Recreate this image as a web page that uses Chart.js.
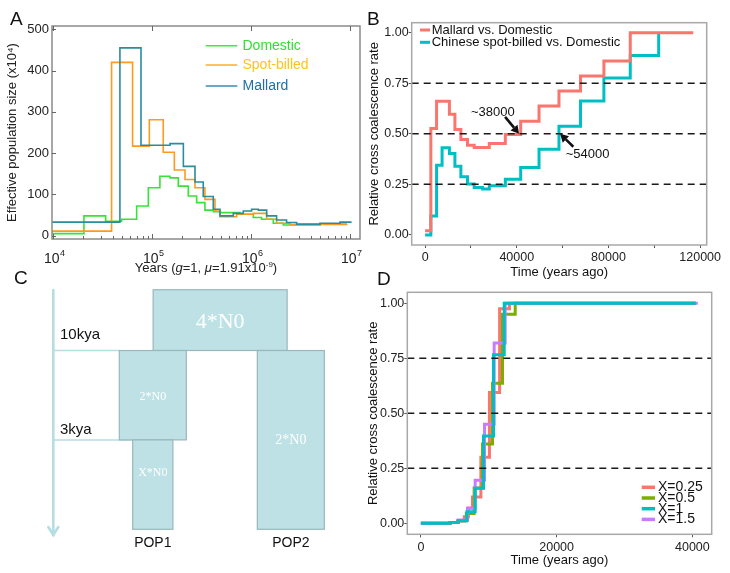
<!DOCTYPE html>
<html>
<head>
<meta charset="utf-8">
<title>PSMC / MSMC figure</title>
<script src="https://cdn.jsdelivr.net/npm/chart.js@4.4.1/dist/chart.umd.min.js"></script>
<style>
  html, body { margin:0; padding:0; background:#fff; }
  #fig { position:relative; width:730px; height:573px; overflow:hidden; background:#fff; }
  .pane { position:absolute; }
  .pane canvas { display:block; }
  .letter { position:absolute; font-family:'Liberation Sans', Arial, sans-serif; font-size:19px; line-height:1; color:#111; }
</style>
</head>
<body>
<div id="fig">
  <div class="pane" style="left:0;top:0;"><canvas id="chartA" width="365" height="280"></canvas></div>
  <div class="pane" style="left:365px;top:0;"><canvas id="chartB" width="365" height="280"></canvas></div>
  <div class="pane" style="left:0;top:280px;"><canvas id="chartC" width="365" height="293"></canvas></div>
  <div class="pane" style="left:365px;top:280px;"><canvas id="chartD" width="365" height="293"></canvas></div>
  <div class="letter" style="left:10px;top:9px;">A</div>
  <div class="letter" style="left:367px;top:9px;">B</div>
  <div class="letter" style="left:14px;top:268px;">C</div>
  <div class="letter" style="left:377px;top:269px;">D</div>
</div>
<script>
// ================= DATA =================
// ---- Panel A: PSMC, effective population size (x10^4) vs years ----
const domesticYears = [9700, 20400, 33800, 49000, 69500, 91200, 119400, 150600, 183000, 231000, 280600, 340000, 413000, 483000, 769000, 1048000, 1271000, 1667000, 2104000, 5000000, 9300000];
const domesticNe    = [5, 48, 35, 40, 72, 116, 144, 140, 120, 96, 80, 62, 58, 56, 52, 44, 40, 30, 26, 28, 28];
const spotYears     = [9700, 38800, 63200, 93300, 129000, 167000, 214000, 270000, 340000, 430000, 483000, 711000, 1048000, 1429000, 1803000, 2459000, 9200000];
const spotNe        = [11, 420, 217, 281, 202, 159, 136, 116, 88, 60, 46, 52, 54, 40, 30, 27, 28];
const mallardYears  = [9700, 47100, 76900, 151000, 206000, 270000, 327000, 413000, 483000, 658000, 830000, 1007000, 1177000, 1430000, 1800000, 2270000, 2870000, 4940000, 7870000, 10300000];
const mallardNe     = [33, 455, 219, 223, 168, 130, 95, 64, 48, 54, 60, 64, 62, 48, 38, 32, 28, 30, 33, 33];
const seriesNamesA  = ['Domestic', 'Spot-billed', 'Mallard'];
const yTicksA       = [0, 100, 200, 300, 400, 500];
const xMajorTicksA  = [1e4, 1e5, 1e6, 1e7];

// ---- Panel B: relative cross coalescence rate ----
const timeMD = [0, 2500, 5000, 10600, 13000, 15600, 18500, 21400, 28000, 35000, 41700, 49700, 58400, 67800, 78000, 89500, 117000];
const rateMD = [0.02, 0.526, 0.661, 0.597, 0.521, 0.472, 0.444, 0.433, 0.452, 0.497, 0.562, 0.638, 0.712, 0.786, 0.86, 1.0, 1.0];
const timeCD = [0, 2500, 5000, 7400, 10600, 13000, 15600, 18500, 21400, 25100, 28000, 35000, 41700, 49700, 58400, 67800, 78000, 89500, 101900];
const rateCD = [0.0, 0.094, 0.345, 0.431, 0.403, 0.34, 0.288, 0.252, 0.234, 0.227, 0.243, 0.275, 0.334, 0.424, 0.538, 0.663, 0.776, 0.888, 1.0];
const seriesNamesB = ['Mallard vs. Domestic', 'Chinese spot-billed vs. Domestic'];
const xTicksB      = [0, 20000, 40000, 60000, 80000, 100000, 120000];
const xLabelTicksB = [0, 40000, 80000, 120000];
const yTicksBD     = [0, 0.25, 0.5, 0.75, 1];
const refLinesBD   = [0.25, 0.5, 0.75];
const splitLabelsB = ['~38000', '~54000'];
const splitTimesB  = [41000, 58900];
const splitRateB   = 0.5;

// ---- Panel C: simulated demographic model ----
const cBoxLabels = ['4*N0', '2*N0', 'X*N0', '2*N0'];
const cBoxSizes  = [4, 2, 1.2, 2];          // population size in N0 units (box width)
const cBoxCenter = [4.98, 2.97, 2.97, 7.09];
const cBoxFrom   = [2, 1, 0, 0];            // epoch index (0 = present, 1 = 3 kya, 2 = 10 kya)
const cBoxTo     = [2.68, 2, 1, 2];
const cEpochLabels = ['10kya', '3kya'];
const cEpochLevels = [2, 1];
const cPopNames  = ['POP1', 'POP2'];
const cPopCenter = [2.97, 7.09];

// ---- Panel D: simulated cross coalescence ----
const timeX025 = [0, 4300, 5400, 6400, 7000, 7600, 8840, 10100, 11600, 13050, 40500];
const rateX025 = [0, 0.004, 0.01, 0.03, 0.07, 0.12, 0.30, 0.595, 0.975, 1.0, 1.0];
const timeX05  = [0, 4300, 5500, 6700, 7850, 9080, 10550, 12030, 13900, 40500];
const rateX05  = [0, 0.004, 0.012, 0.045, 0.16, 0.36, 0.637, 0.95, 1.0, 1.0];
const timeX1   = [0, 4300, 5500, 6780, 8000, 9230, 10700, 12280, 40500];
const rateX1   = [0, 0.004, 0.012, 0.053, 0.159, 0.397, 0.766, 1.0, 1.0];
const timeX15  = [0, 4300, 5500, 6870, 8000, 9380, 10800, 12420, 40800];
const rateX15  = [0, 0.004, 0.015, 0.068, 0.196, 0.45, 0.82, 1.0, 1.0];
const seriesNamesD = ['X=0.25', 'X=0.5', 'X=1', 'X=1.5'];
const xTicksD = [0, 20000, 40000];

// ================= STYLE =================
const FONT = "'Liberation Sans', Arial, Helvetica, sans-serif";
const SERIF = "'Liberation Serif', 'Times New Roman', serif";
Chart.defaults.font.family = FONT;
Chart.defaults.color = '#222';
const colA = { Domestic: '#36e336', Spot: '#ff9a1f', Mallard: '#2b8c9b' };
const legendStyleA = [
  { line: '#3ee83e', text: '#2fe02f' },
  { line: '#ffab2e', text: '#ffc21f' },
  { line: '#3a8cb0', text: '#1d6fa8' }
];
const colB = ['#F8766D', '#00BFC4'];
const colD = ['#F8766D', '#7CAE00', '#00BFC4', '#C77CFF'];

function pts(xs, ys) { return xs.map((x, i) => ({ x: x, y: ys[i] })); }

const framePlugin = {
  id: 'frame',
  afterDraw(chart, args, opts) {
    if (!opts || !opts.color) return;
    const { ctx, chartArea: a } = chart;
    ctx.save();
    ctx.strokeStyle = opts.color; ctx.lineWidth = opts.width || 1;
    ctx.strokeRect(a.left, a.top, a.right - a.left, a.bottom - a.top);
    ctx.restore();
  }
};

function drawArrow(ctx, x1, y1, x2, y2) {
  const ang = Math.atan2(y2 - y1, x2 - x1), L = 8, W = 4.5;
  const bx = x2 - L * Math.cos(ang), by = y2 - L * Math.sin(ang);
  ctx.strokeStyle = '#111'; ctx.lineWidth = 2.6;
  ctx.beginPath(); ctx.moveTo(x1, y1); ctx.lineTo(bx, by); ctx.stroke();
  ctx.fillStyle = '#111';
  ctx.beginPath(); ctx.moveTo(x2, y2);
  ctx.lineTo(bx + W * Math.sin(ang), by - W * Math.cos(ang));
  ctx.lineTo(bx - W * Math.sin(ang), by + W * Math.cos(ang));
  ctx.closePath(); ctx.fill();
}

function drawRefLines(chart) {
  const { ctx, chartArea: a, scales: { y } } = chart;
  ctx.save();
  ctx.setLineDash([7, 5]); ctx.strokeStyle = '#1a1a1a'; ctx.lineWidth = 1.5;
  refLinesBD.forEach(v => {
    const py = y.getPixelForValue(v);
    ctx.beginPath(); ctx.moveTo(a.left, py); ctx.lineTo(a.right, py); ctx.stroke();
  });
  ctx.restore();
}

// ================= PANEL A =================
const tickValuesA = [];
for (let e = 3; e <= 7; e++) for (let m = 1; m <= 9; m++) {
  const v = m * Math.pow(10, e);
  if (v >= 9705 && v <= 12530000) tickValuesA.push(v);
}
const panelAPlugin = {
  id: 'panelA',
  afterDraw(chart) {
    const { ctx, chartArea: a, scales: { x, y } } = chart;
    ctx.save();
    ctx.strokeStyle = '#666'; ctx.lineWidth = 1;
    tickValuesA.forEach(v => {
      const px = Math.round(x.getPixelForValue(v)) + 0.5;
      const major = xMajorTicksA.includes(v);
      const len = major ? 5 : 3;
      ctx.beginPath(); ctx.moveTo(px, a.bottom); ctx.lineTo(px, a.bottom - len); ctx.stroke();
      if (major) { ctx.beginPath(); ctx.moveTo(px, a.top); ctx.lineTo(px, a.top + len); ctx.stroke(); }
    });
    yTicksA.forEach(v => {
      const py = Math.round(y.getPixelForValue(v)) + 0.5;
      ctx.beginPath(); ctx.moveTo(a.left, py); ctx.lineTo(a.left + 4, py); ctx.stroke();
    });
    // x tick labels: 10 with raised exponent
    ctx.fillStyle = '#222'; ctx.textBaseline = 'alphabetic';
    xMajorTicksA.forEach(v => {
      const px = x.getPixelForValue(v);
      const expTxt = String(Math.round(Math.log10(v)));
      ctx.font = `14px ${FONT}`; const wb = ctx.measureText('10').width;
      ctx.font = `9px ${FONT}`; const we = ctx.measureText(expTxt).width;
      const x0 = px - (wb + we) / 2 + 1;
      ctx.font = `14px ${FONT}`; ctx.textAlign = 'left'; ctx.fillText('10', x0, 263);
      ctx.font = `9px ${FONT}`; ctx.fillText(expTxt, x0 + wb + 0.5, 256);
    });
    // legend
    const rows = [19.7, 39, 60];
    seriesNamesA.forEach((name, i) => {
      const yy = a.top + rows[i];
      ctx.strokeStyle = legendStyleA[i].line; ctx.lineWidth = 1.6;
      ctx.beginPath(); ctx.moveTo(a.left + 153.7, yy); ctx.lineTo(a.left + 185.3, yy); ctx.stroke();
      ctx.fillStyle = legendStyleA[i].text; ctx.font = `14px ${FONT}`;
      ctx.textAlign = 'left'; ctx.textBaseline = 'middle';
      ctx.fillText(name, a.left + 190.5, yy);
    });
    // x-axis title with italic parts
    const parts = [['Years (', 'n'], ['g', 'i'], ['=1, ', 'n'], ['\u03bc', 'i'], ['=1.91x10', 'n'], ['-9', 's'], [')', 'n']];
    const size = 13;
    const fonts = parts.map(([t, s]) => {
      const f = s === 's' ? `${Math.round(size * 0.62)}px ${FONT}` : (s === 'i' ? `italic ${size}px ${FONT}` : `${size}px ${FONT}`);
      ctx.font = f; return { t, s, f, w: ctx.measureText(t).width };
    });
    const total = fonts.reduce((acc, p) => acc + p.w, 0);
    let xx = (a.left + a.right) / 2 - total / 2;
    const base = 272;
    ctx.fillStyle = '#222'; ctx.textAlign = 'left'; ctx.textBaseline = 'alphabetic';
    fonts.forEach(p => { ctx.font = p.f; ctx.fillText(p.t, xx, p.s === 's' ? base - 5.5 : base); xx += p.w; });
    ctx.restore();
  }
};

new Chart(document.getElementById('chartA'), {
  type: 'line',
  data: {
    datasets: [
      { label: seriesNamesA[2], data: pts(mallardYears, mallardNe), borderColor: colA.Mallard },
      { label: seriesNamesA[1], data: pts(spotYears, spotNe), borderColor: colA.Spot },
      { label: seriesNamesA[0], data: pts(domesticYears, domesticNe), borderColor: colA.Domestic }
    ]
  },
  options: {
    responsive: false, animation: false, events: [],
    layout: { padding: { left: 0, right: 5, top: 26, bottom: 0 } },
    elements: { point: { radius: 0 }, line: { borderWidth: 1.6, stepped: 'before', tension: 0 } },
    plugins: { legend: { display: false }, tooltip: { enabled: false }, frame: { color: '#8a8a8a', width: 1.5 } },
    scales: {
      x: {
        type: 'logarithmic', min: 9705, max: 12530000,
        afterBuildTicks: s => { s.ticks = tickValuesA.map(v => ({ value: v })); },
        afterFit: s => { s.height = 41; },
        grid: { display: false, drawTicks: false }, border: { display: false },
        ticks: { autoSkip: false, maxRotation: 0, padding: 11, display: false }
      },
      y: {
        type: 'linear', min: -8, max: 508,
        afterBuildTicks: s => { s.ticks = yTicksA.map(v => ({ value: v })); },
        afterFit: s => { s.width = 52; },
        grid: { display: false, drawTicks: false }, border: { display: false },
        ticks: { padding: 3, color: '#222', font: { size: 13 } },
        title: { display: true, text: 'Effective population size (x10\u2074)', color: '#222', font: { size: 13 }, padding: { top: 5, bottom: 0 } }
      }
    }
  },
  plugins: [framePlugin, panelAPlugin]
});

// ================= PANEL B =================
const annotStyleB = [
  { tail: [-14, -17], text: [-26.3, -21.3] },
  { tail: [13.2, 12.9], text: [27.4, 20.9] }
];
const panelBPlugin = {
  id: 'panelB',
  afterDatasetsDraw(chart) {
    const { ctx, chartArea: a, scales: { x, y } } = chart;
    drawRefLines(chart);
    ctx.save();
    splitTimesB.forEach((t, i) => {
      const tx = x.getPixelForValue(t), ty = y.getPixelForValue(splitRateB);
      const s = annotStyleB[i];
      drawArrow(ctx, tx + s.tail[0], ty + s.tail[1], tx, ty);
      ctx.font = `13px ${FONT}`; ctx.fillStyle = '#111'; ctx.textAlign = 'center'; ctx.textBaseline = 'middle';
      ctx.fillText(splitLabelsB[i], tx + s.text[0], ty + s.text[1]);
    });
    const rows = [7.3, 19.6];
    seriesNamesB.forEach((name, i) => {
      const yy = a.top + rows[i];
      ctx.strokeStyle = colB[i]; ctx.lineWidth = 3;
      ctx.beginPath(); ctx.moveTo(a.left + 8.3, yy); ctx.lineTo(a.left + 18.3, yy); ctx.stroke();
      ctx.fillStyle = '#111'; ctx.font = `13px ${FONT}`; ctx.textAlign = 'left'; ctx.textBaseline = 'middle';
      ctx.fillText(name, a.left + 20, yy);
    });
    ctx.restore();
  }
};

new Chart(document.getElementById('chartB'), {
  type: 'line',
  data: {
    datasets: [
      { label: seriesNamesB[0], data: pts(timeMD, rateMD), borderColor: colB[0] },
      { label: seriesNamesB[1], data: pts(timeCD, rateCD), borderColor: colB[1] }
    ]
  },
  options: {
    responsive: false, animation: false, events: [],
    layout: { padding: { left: 0, right: 23.3, top: 22.7, bottom: 0 } },
    elements: { point: { radius: 0 }, line: { borderWidth: 3, stepped: 'before', tension: 0 } },
    plugins: { legend: { display: false }, tooltip: { enabled: false }, frame: { color: '#a8a8a8', width: 1.5 } },
    scales: {
      x: {
        type: 'linear', min: -5850, max: 122850,
        afterBuildTicks: s => { s.ticks = xTicksB.map(v => ({ value: v })); },
        afterFit: s => { s.height = 35; },
        grid: { display: true, drawOnChartArea: false, drawTicks: true, tickLength: 3, color: '#555' },
        border: { display: false },
        ticks: { autoSkip: false, maxRotation: 0, padding: 2, color: '#222', font: { size: 12.5 },
          callback: v => xLabelTicksB.includes(v) ? String(v) : '' },
        title: { display: true, text: 'Time (years ago)', color: '#111', font: { size: 13 }, padding: { top: 0, bottom: 0 } }
      },
      y: {
        type: 'linear', min: -0.05, max: 1.05,
        afterBuildTicks: s => { s.ticks = yTicksBD.map(v => ({ value: v })); },
        afterFit: s => { s.width = 46.7; },
        grid: { display: true, drawOnChartArea: false, drawTicks: true, tickLength: 3, color: '#555' },
        border: { display: false },
        ticks: { padding: 0, color: '#222', font: { size: 12.5 }, callback: v => Number(v).toFixed(2) },
        title: { display: true, text: 'Relative cross coalescence rate', color: '#111', font: { size: 13 }, padding: { top: 2, bottom: 0 } }
      }
    }
  },
  plugins: [framePlugin, panelBPlugin]
});

// ================= PANEL C =================
const cStyle = {
  fill: '#bde1e4', stroke: '#98b8bc', lineCol: '#b6dee2',
  labelFont: [22, 12, 12, 14], labelLevel: [2.32, 1.48, 0.63, 1.0],
  epochTextLevel: [2.18, 1.11], epochTextX: 0.2, popLevel: -0.157,
  arrowTop: 2.677, arrowBottom: -0.064, epochStopBox: [1, 2]
};
const panelCPlugin = {
  id: 'panelC',
  afterDraw(chart) {
    const { ctx, scales: { x, y } } = chart;
    const X = v => x.getPixelForValue(v), Y = v => y.getPixelForValue(v);
    ctx.save();
    // time arrow
    ctx.strokeStyle = cStyle.lineCol; ctx.lineWidth = 2.6; ctx.lineCap = 'round';
    ctx.beginPath(); ctx.moveTo(X(0), Y(cStyle.arrowTop)); ctx.lineTo(X(0), Y(cStyle.arrowBottom)); ctx.stroke();
    ctx.beginPath(); ctx.moveTo(X(0) - 5, Y(cStyle.arrowBottom) - 8); ctx.lineTo(X(0), Y(cStyle.arrowBottom)); ctx.lineTo(X(0) + 5, Y(cStyle.arrowBottom) - 8); ctx.stroke();
    // epoch lines
    ctx.lineWidth = 1.5; ctx.lineCap = 'butt';
    cEpochLevels.forEach((lv, i) => {
      const b = cStyle.epochStopBox[i];
      ctx.beginPath(); ctx.moveTo(X(0), Y(lv)); ctx.lineTo(X(cBoxCenter[b] - cBoxSizes[b] / 2), Y(lv)); ctx.stroke();
      ctx.fillStyle = '#111'; ctx.font = `15px ${FONT}`; ctx.textAlign = 'left'; ctx.textBaseline = 'middle';
      ctx.fillText(cEpochLabels[i], X(cStyle.epochTextX), Y(cStyle.epochTextLevel[i]));
    });
    // population boxes
    cBoxLabels.forEach((lab, i) => {
      const x0 = X(cBoxCenter[i] - cBoxSizes[i] / 2), x1 = X(cBoxCenter[i] + cBoxSizes[i] / 2);
      const y0 = Y(cBoxTo[i]), y1 = Y(cBoxFrom[i]);
      ctx.fillStyle = cStyle.fill; ctx.fillRect(x0, y0, x1 - x0, y1 - y0);
      ctx.strokeStyle = cStyle.stroke; ctx.lineWidth = 1.2; ctx.strokeRect(x0, y0, x1 - x0, y1 - y0);
    });
    cBoxLabels.forEach((lab, i) => {
      ctx.fillStyle = '#ffffff'; ctx.font = `${cStyle.labelFont[i]}px ${SERIF}`;
      ctx.textAlign = 'center'; ctx.textBaseline = 'middle';
      ctx.fillText(lab, X(cBoxCenter[i]), Y(cStyle.labelLevel[i]));
    });
    cPopNames.forEach((p, i) => {
      ctx.fillStyle = '#111'; ctx.font = `14px ${FONT}`; ctx.textAlign = 'center'; ctx.textBaseline = 'middle';
      ctx.fillText(p, X(cPopCenter[i]), Y(cStyle.popLevel));
    });
    ctx.restore();
  }
};
new Chart(document.getElementById('chartC'), {
  type: 'scatter',
  data: { datasets: [] },
  options: {
    responsive: false, animation: false, events: [],
    layout: { padding: 0 },
    plugins: { legend: { display: false }, tooltip: { enabled: false } },
    scales: {
      x: { type: 'linear', min: -1.591, max: 9.304, display: false },
      y: { type: 'linear', min: -0.489, max: 2.789, display: false }
    }
  },
  plugins: [panelCPlugin]
});

// ================= PANEL D =================
const panelDPlugin = {
  id: 'panelD',
  afterDatasetsDraw(chart) {
    const { ctx, chartArea: a } = chart;
    drawRefLines(chart);
    ctx.save();
    seriesNamesD.forEach((name, i) => {
      const yy = a.top + 195 + i * 10.7;
      ctx.strokeStyle = colD[i]; ctx.lineWidth = 3.5;
      ctx.beginPath(); ctx.moveTo(a.left + 234.4, yy); ctx.lineTo(a.left + 247.7, yy); ctx.stroke();
      ctx.fillStyle = '#111'; ctx.font = `14px ${FONT}`; ctx.textAlign = 'left'; ctx.textBaseline = 'middle';
      ctx.fillText(name, a.left + 250.7, yy);
    });
    ctx.restore();
  }
};
new Chart(document.getElementById('chartD'), {
  type: 'line',
  data: {
    datasets: [
      { label: seriesNamesD[0], data: pts(timeX025, rateX025), borderColor: colD[0], order: 3 },
      { label: seriesNamesD[1], data: pts(timeX05, rateX05), borderColor: colD[1], order: 2 },
      { label: seriesNamesD[2], data: pts(timeX1, rateX1), borderColor: colD[2], order: 0 },
      { label: seriesNamesD[3], data: pts(timeX15, rateX15), borderColor: colD[3], order: 1 }
    ]
  },
  options: {
    responsive: false, animation: false, events: [],
    layout: { padding: { left: 0, right: 18.3, top: 12.3, bottom: 0 } },
    elements: { point: { radius: 0 }, line: { borderWidth: 3, stepped: 'before', tension: 0 } },
    plugins: { legend: { display: false }, tooltip: { enabled: false }, frame: { color: '#a8a8a8', width: 1.5 } },
    scales: {
      x: {
        type: 'linear', min: -2000, max: 42850,
        afterBuildTicks: s => { s.ticks = xTicksD.map(v => ({ value: v })); },
        afterFit: s => { s.height = 38.7; },
        grid: { display: true, drawOnChartArea: false, drawTicks: true, tickLength: 3, color: '#555' },
        border: { display: false },
        ticks: { autoSkip: false, maxRotation: 0, padding: 3, color: '#222', font: { size: 12.5 }, callback: v => String(v) },
        title: { display: true, text: 'Time (years ago)', color: '#111', font: { size: 13 }, padding: { top: 0, bottom: 5 } }
      },
      y: {
        type: 'linear', min: -0.05, max: 1.05,
        afterBuildTicks: s => { s.ticks = yTicksBD.map(v => ({ value: v })); },
        afterFit: s => { s.width = 42.3; },
        grid: { display: true, drawOnChartArea: false, drawTicks: true, tickLength: 3, color: '#555' },
        border: { display: false },
        ticks: { padding: 0, color: '#222', font: { size: 12.5 }, callback: v => Number(v).toFixed(2) },
        title: { display: true, text: 'Relative cross coalescence rate', color: '#111', font: { size: 13 }, padding: { top: 0.5, bottom: 0 } }
      }
    }
  },
  plugins: [framePlugin, panelDPlugin]
});
</script>
</body>
</html>
